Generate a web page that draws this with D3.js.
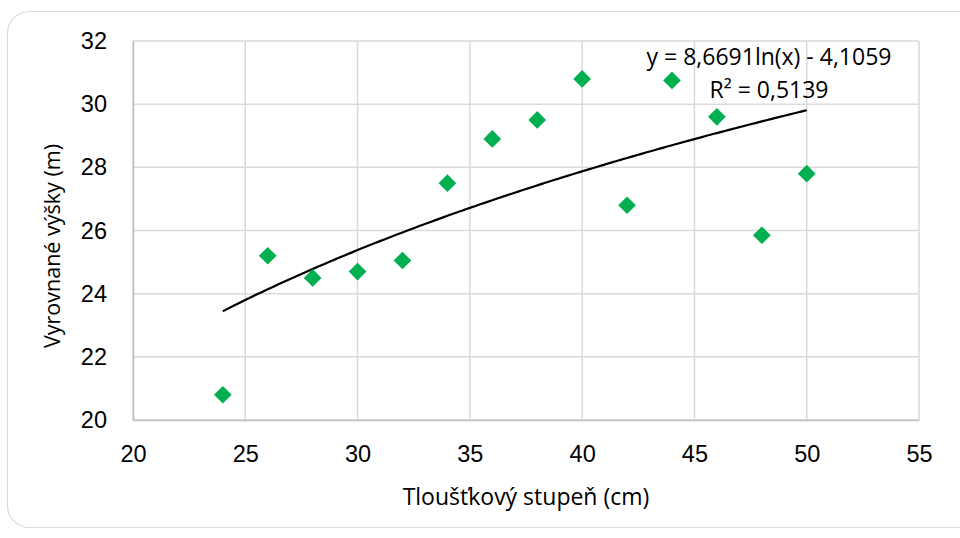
<!DOCTYPE html>
<html>
<head>
<meta charset="utf-8">
<script src="https://cdn.jsdelivr.net/npm/d3@7"></script>
<style>
  html, body { margin: 0; padding: 0; background: #ffffff; }
  svg { display: block; font-family: "Open Sans", "Noto Sans", sans-serif; }
</style>
</head>
<body>
<svg id="chart"></svg>
<script>
// DATA
let diameters = [24, 26, 28, 30, 32, 34, 36, 38, 40, 42, 44, 46, 48, 50]
let heights = [20.8, 25.2, 24.5, 24.7, 25.05, 27.5, 28.9, 29.5, 30.8, 26.8, 30.75, 29.6, 25.85, 27.8]
let xTicks = [20, 25, 30, 35, 40, 45, 50, 55]
let yTicks = [20, 22, 24, 26, 28, 30, 32]
// trend line as printed on the chart: y = a ln(x) + b
let trendCoef = [8.6691, -4.1059]
let trendLabel = ["y = 8,6691ln(x) - 4,1059", "R² = 0,5139"]

let width = 960, height = 538
let margins = {top: 41, bottom: 118, left: 133, right: 41}
let svgWidth = width - margins.left - margins.right
let svgHeight = height - margins.top - margins.bottom

let svg = d3.select('#chart').attr('width', width).attr('height', height)

// CHART BORDER
svg.append('rect')
    .attr('x', 7.5).attr('y', 11.5)
    .attr('width', 975).attr('height', 516)
    .attr('rx', 22).attr('ry', 22)
    .attr('fill', '#ffffff')
    .attr('stroke', '#d9d9d9')
    .attr('stroke-width', 1.2)

let x = d3.scaleLinear().domain([20, 55]).range([0, svgWidth])
let y = d3.scaleLinear().domain([20, 32]).range([svgHeight, 0])

let chart = svg.append('g').attr('transform', `translate(${margins.left},${margins.top})`)

// GRIDLINES
chart.append('g')
    .selectAll('line')
    .data(yTicks)
    .enter()
    .append('line')
    .attr('x1', 0).attr('x2', svgWidth)
    .attr('y1', d => y(d)).attr('y2', d => y(d))
    .attr('stroke', '#d9d9d9').attr('stroke-width', 1.5)

chart.append('g')
    .selectAll('line')
    .data(xTicks)
    .enter()
    .append('line')
    .attr('x1', d => x(d)).attr('x2', d => x(d))
    .attr('y1', 0).attr('y2', svgHeight)
    .attr('stroke', '#d9d9d9').attr('stroke-width', 1.5)

// X-AXIS
let xAxis = chart.append('g')
    .attr('transform', `translate(0, ${svgHeight})`)
    .call(d3.axisBottom(x).tickValues(xTicks).tickSize(0).tickPadding(25))
xAxis.select('.domain').attr('stroke', '#bfbfbf').attr('stroke-width', 1.5)
xAxis.selectAll('text').attr('fill', '#000000').attr('font-size', 23.5).attr('font-family', null)

// Y-AXIS
let yAxis = chart.append('g')
    .call(d3.axisLeft(y).tickValues(yTicks).tickSize(0).tickPadding(26))
yAxis.select('.domain').attr('stroke', '#bfbfbf').attr('stroke-width', 1.5)
yAxis.selectAll('text').attr('fill', '#000000').attr('font-size', 23.5).attr('font-family', null)

// AXIS TITLES
svg.append('text')
    .attr('x', margins.left + svgWidth / 2)
    .attr('y', 505)
    .attr('text-anchor', 'middle')
    .attr('font-size', 23)
    .text('Tloušťkový stupeň (cm)')

svg.append('text')
    .attr('transform', `translate(60, 246) rotate(-90)`)
    .attr('text-anchor', 'middle')
    .attr('font-size', 21.5)
    .text('Vyrovnané výšky (m)')

// TREND LINE
let trendX = d3.range(d3.min(diameters), d3.max(diameters) + 0.01, 0.25)
let trendLine = d3.line()
    .x(d => x(d))
    .y(d => y(trendCoef[0] * Math.log(d) + trendCoef[1]))
    .curve(d3.curveMonotoneX)

chart.append('path')
    .datum(trendX)
    .attr('d', trendLine)
    .attr('fill', 'none')
    .attr('stroke', '#000000')
    .attr('stroke-width', 2.2)

// POINTS
let points = diameters.map((d, i) => ({x: d, y: heights[i]}))
chart.selectAll('.point')
    .data(points)
    .enter()
    .append('path')
    .classed('point', true)
    .attr('d', d3.symbol().type(d3.symbolDiamond2).size(200))
    .attr('transform', d => `translate(${x(d.x)}, ${y(d.y)})`)
    .attr('fill', '#00b050')

// TREND LABEL
svg.append('text')
    .attr('x', 769).attr('y', 65)
    .attr('text-anchor', 'middle')
    .attr('font-size', 23)
    .text(trendLabel[0])

svg.append('text')
    .attr('x', 769).attr('y', 98)
    .attr('text-anchor', 'middle')
    .attr('font-size', 23)
    .text(trendLabel[1])
</script>
</body>
</html>
